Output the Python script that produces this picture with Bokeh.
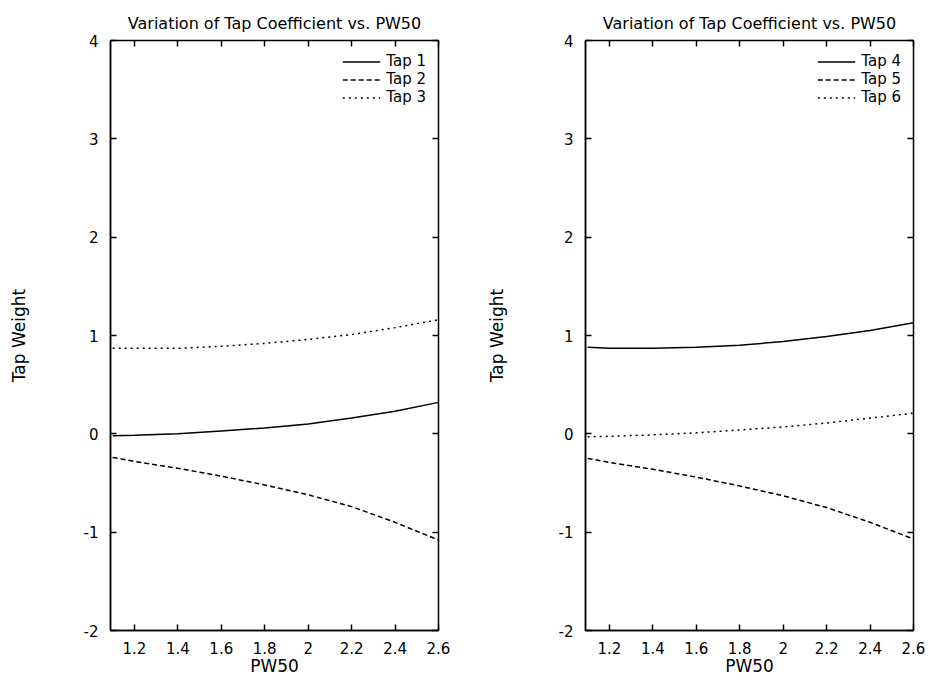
from bokeh.plotting import figure
from bokeh.models import FixedTicker, LinearAxis, Range1d, PrintfTickFormatter, Legend, LegendItem
from bokeh.layouts import row
from bokeh.embed import file_html
from bokeh.resources import INLINE

pw50 = [1.1, 1.2, 1.4, 1.6, 1.8, 2.0, 2.2, 2.4, 2.6]
tap1 = [-0.02, -0.015, 0.0, 0.03, 0.06, 0.10, 0.16, 0.23, 0.32]
tap2 = [-0.24, -0.28, -0.35, -0.43, -0.52, -0.62, -0.74, -0.90, -1.08]
tap3 = [0.87, 0.87, 0.87, 0.89, 0.92, 0.96, 1.01, 1.08, 1.16]
tap4 = [0.88, 0.87, 0.87, 0.88, 0.90, 0.94, 0.99, 1.05, 1.13]
tap5 = [-0.25, -0.29, -0.36, -0.44, -0.53, -0.63, -0.75, -0.90, -1.07]
tap6 = [-0.03, -0.025, -0.01, 0.01, 0.04, 0.07, 0.11, 0.16, 0.21]

x_ticks = [1.2, 1.4, 1.6, 1.8, 2.0, 2.2, 2.4, 2.6]
y_ticks = [-2, -1, 0, 1, 2, 3, 4]
y_tick_labels = {-2: "-2", -1: "-1", 0: "0", 1: "1", 2: "2", 3: "3", 4: "4"}

FONT = "DejaVu Sans"
TITLE = "Variation of Tap Coefficient vs. PW50"


def make_panel(series, names, width, bl, br, ylab_standoff):
    p = figure(width=width, height=678, output_backend="svg", toolbar_location=None,
               x_range=Range1d(1.09, 2.6), y_range=Range1d(-2, 4),
               min_border_left=bl, min_border_right=br, min_border_top=40, min_border_bottom=46,
               title=TITLE)
    p.title.align = "center"
    p.title.text_font = FONT
    p.title.text_font_size = "16px"
    p.title.text_font_style = "normal"
    p.title.text_color = "black"
    p.title.offset = 0
    p.title.standoff = 15
    p.grid.visible = False
    p.outline_line_color = "black"
    p.outline_line_width = 1.5
    p.background_fill_color = "white"
    p.border_fill_color = "white"

    p.xaxis.ticker = FixedTicker(ticks=x_ticks)
    p.xaxis.formatter = PrintfTickFormatter(format="%g")
    p.yaxis.ticker = FixedTicker(ticks=y_ticks)
    p.yaxis.major_label_overrides = y_tick_labels
    p.xaxis.axis_label = "PW50"
    p.yaxis.axis_label = "Tap Weight"
    p.yaxis.axis_label_standoff = ylab_standoff
    p.xaxis.axis_label_standoff = -1
    for ax in (p.xaxis[0], p.yaxis[0]):
        ax.major_tick_in = 6
        ax.major_tick_out = 0
        ax.minor_tick_line_color = None
        ax.axis_line_color = "black"
        ax.axis_line_width = 1.5
        ax.major_tick_line_width = 1.5
        ax.major_label_text_font = FONT
        ax.major_label_text_font_size = "15px"
        ax.major_label_text_font_style = "normal"
        ax.major_label_text_color = "black"
        ax.axis_label_text_font = FONT
        ax.axis_label_text_font_size = "17px"
        ax.axis_label_text_font_style = "normal"
        ax.axis_label_text_color = "black"
    p.yaxis.major_label_standoff = 12
    p.xaxis.major_label_standoff = 11

    # mirrored ticks on top and right (no labels)
    for loc, tk in (("right", y_ticks), ("above", x_ticks)):
        ax = LinearAxis(ticker=FixedTicker(ticks=tk), major_tick_in=6, major_tick_out=0,
                        minor_tick_line_color=None,
                        major_label_overrides={t: "" for t in tk},
                        major_label_text_font_size="1px",
                        major_label_standoff=0, axis_line_color=None,
                        major_tick_line_width=1.5)
        p.add_layout(ax, loc)

    dashes = ["solid", "5 3", "2 4"]
    items = []
    for ys, nm, d in zip(series, names, dashes):
        r = p.line(pw50, ys, line_color="black", line_width=1.5, line_dash=d)
        items.append(LegendItem(label=nm, renderers=[r]))
    leg = Legend(items=items, location="top_right", border_line_color=None,
                 background_fill_alpha=0, label_text_font=FONT, label_text_font_size="15px",
                 label_text_color="black",
                 label_height=15, glyph_height=15, glyph_width=38, spacing=0, padding=4,
                 margin=12, label_standoff=6)
    p.add_layout(leg)
    return p


p1 = make_panel([tap1, tap2, tap3], ["Tap 1", "Tap 2", "Tap 3"], 466, 110, 28, 52)
p2 = make_panel([tap4, tap5, tap6], ["Tap 4", "Tap 5", "Tap 6"], 465, 119, 18, 49)

layout = row(p1, p2)
open("out.html", "w").write(file_html(layout, INLINE))
